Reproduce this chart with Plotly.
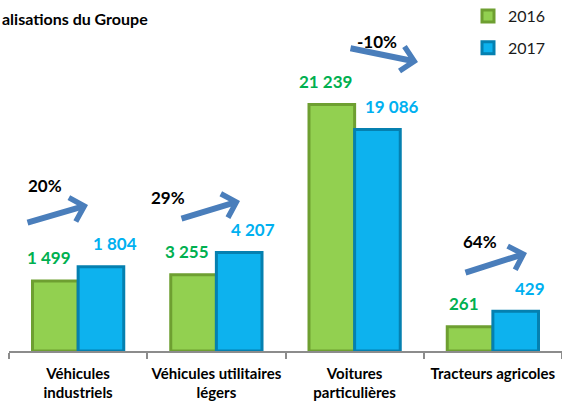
import plotly.graph_objects as go

categories = ["Véhicules<br>industriels", "Véhicules utilitaires<br>légers",
              "Voitures<br>particulières", "Tracteurs agricoles"]
values_2016 = [1499, 3255, 21239, 261]
values_2017 = [1804, 4207, 19086, 429]
labels_2016 = ["1 499", "3 255", "21 239", "261"]
labels_2017 = ["1 804", "4 207", "19 086", "429"]
changes = ["20%", "29%", "-10%", "64%"]
# each category pair is drawn on its own (hidden) value axis, as in the original
axis_max = [7083, 14134, 28532, 3575]

FONT = "Lato"
GREEN_FILL, GREEN_LINE, GREEN_TXT = "#92D050", "#6E9F31", "#00B050"
BLUE_FILL, BLUE_LINE, BLUE_TXT = "#0DB2EE", "#0580B0", "#00B0F0"
ARROW = "#4A7EBB"

W, H = 562, 401
ML, MR, MT, MB = 9, 0, 20, 50
PW, PH = W - ML - MR, H - MT - MB

fig = go.Figure()
yaxes = ["y", "y2", "y3", "y4"]
for i, cat in enumerate(categories):
    fig.add_trace(go.Bar(x=[cat], y=[values_2016[i]], yaxis=yaxes[i], name="2016",
                         legendgroup="2016", showlegend=(i == 0),
                         marker=dict(color=GREEN_FILL, line=dict(color=GREEN_LINE, width=3)),
                         hoverinfo="skip"))
    fig.add_trace(go.Bar(x=[cat], y=[values_2017[i]], yaxis=yaxes[i], name="2017",
                         legendgroup="2017", showlegend=(i == 0),
                         marker=dict(color=BLUE_FILL, line=dict(color=BLUE_LINE, width=3)),
                         hoverinfo="skip"))

annotations = []
for i, cat in enumerate(categories):
    yref = yaxes[i]
    annotations.append(dict(x=cat, y=values_2016[i], xref="x", yref=yref, text=labels_2016[i],
                            showarrow=False, xshift=-29, yshift=23,
                            font=dict(family=FONT, size=17, color=GREEN_TXT, weight="bold")))
    annotations.append(dict(x=cat, y=values_2017[i], xref="x", yref=yref, text=labels_2017[i],
                            showarrow=False, xshift=37, yshift=23,
                            font=dict(family=FONT, size=17, color=BLUE_TXT, weight="bold")))

# decorative trend arrows and percentage labels (pixel positions converted to paper)
def px(x):
    return (x - ML) / PW

def py(y):
    return (MT + PH - y) / PH

arrows = [((26, 223), (88, 205)), ((180, 219), (240, 201)),
          ((349, 48), (418, 62)), ((464, 273), (527, 253))]
pct_pos = [(45, 185), (168, 197), (377, 41), (480, 241)]
for (tail, head), txt, (tx, ty) in zip(arrows, changes, pct_pos):
    annotations.append(dict(x=px(head[0]), y=py(head[1]), xref="paper", yref="paper",
                            ax=tail[0] - head[0], ay=tail[1] - head[1],
                            showarrow=True, arrowhead=4, arrowsize=0.8, arrowwidth=6,
                            arrowcolor=ARROW, text=""))
    annotations.append(dict(x=px(tx), y=py(ty), xref="paper", yref="paper", text=txt,
                            showarrow=False, xanchor="center", yanchor="middle",
                            font=dict(family=FONT, size=17, color="#000000", weight="bold")))

annotations.append(dict(x=-ML / PW, y=py(18), xref="paper", yref="paper",
                        text="alisations du Groupe",
                        showarrow=False, xanchor="left", yanchor="middle",
                        font=dict(family=FONT, size=16, color="#000000", weight="bold")))

layout_axes = {}
for i, ya in enumerate(["yaxis", "yaxis2", "yaxis3", "yaxis4"]):
    d = dict(range=[0, axis_max[i]], visible=False, showgrid=False, zeroline=False,
             fixedrange=True, automargin=False)
    if i > 0:
        d["overlaying"] = "y"
    layout_axes[ya] = d

fig.update_layout(
    width=W, height=H, autosize=False,
    margin=dict(l=ML, r=MR, t=MT, b=MB, autoexpand=False),
    paper_bgcolor="white", plot_bgcolor="white",
    barmode="group", bargap=0.34, bargroupgap=0,
    font=dict(family=FONT, color="#000000"),
    xaxis=dict(categoryorder="array", categoryarray=categories, range=[-0.5, 3.5],
               showline=True, linecolor="#8C8C8C", linewidth=1.5,
               ticks="outside", tickson="boundaries", ticklen=6, tickcolor="#8C8C8C",
               tickwidth=1.5, showgrid=False, ticklabelstandoff=8, tickangle=0,
               automargin=False, fixedrange=True,
               tickfont=dict(family=FONT, size=15, color="#000000", weight="bold")),
    legend=dict(x=px(468), y=py(-1), xanchor="left", yanchor="top",
                font=dict(family=FONT, size=16, color="#1a1a1a"),
                tracegroupgap=8, itemwidth=30, bgcolor="rgba(0,0,0,0)"),
    annotations=annotations,
    showlegend=True,
    **layout_axes,
)

fig.write_html("out.html", config={"displayModeBar": False, "responsive": False},
               post_script="document.body.style.margin='0';document.body.style.overflow='hidden';")
